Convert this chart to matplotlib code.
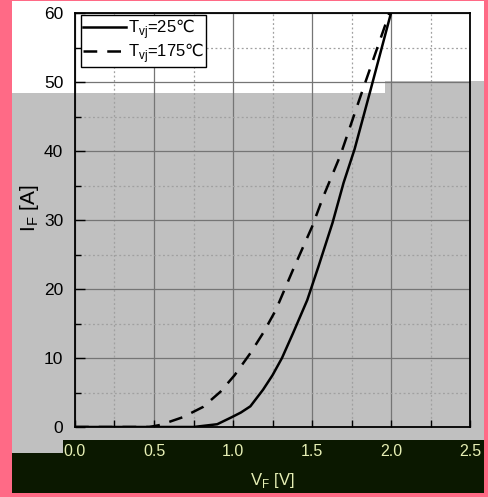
import matplotlib
matplotlib.use("Agg")
import matplotlib.pyplot as plt
from matplotlib.patches import Rectangle
from matplotlib.ticker import MultipleLocator

plt.rcParams['font.family'] = ['Liberation Sans', 'DejaVu Sans']
plt.rcParams['mathtext.fontset'] = 'custom'
plt.rcParams['mathtext.rm'] = 'Liberation Sans'
plt.rcParams['mathtext.sf'] = 'DejaVu Sans'

# forward characteristic
vf_25 = [0.0, 0.50, 0.75, 0.90, 0.99, 1.05, 1.11, 1.19, 1.25, 1.31, 1.38, 1.47,
         1.54, 1.63, 1.70, 1.77, 1.87, 2.00]
if_25 = [0.0, 0.0, 0.0, 0.4, 1.4, 2.1, 3.0, 5.4, 7.5, 10.0, 13.6, 18.4,
         23.2, 29.6, 35.4, 40.3, 48.8, 60.0]
vf_175 = [0.0, 0.47, 0.54, 0.68, 0.81, 0.92, 1.01, 1.11, 1.19, 1.27, 1.38,
          1.50, 1.57, 1.68, 1.82, 1.99]
if_175 = [0.0, 0.0, 0.3, 1.4, 2.9, 5.1, 7.5, 10.7, 13.6, 16.9, 22.8,
          29.0, 33.3, 39.4, 48.8, 60.0]

x_ticks = [0.0, 0.5, 1.0, 1.5, 2.0, 2.5]
x_labels = ['0.0', '0.5', '1.0', '1.5', '2.0', '2.5']
y_ticks = [0, 10, 20, 30, 40, 50, 60]

W, H = 489, 497
fig = plt.figure(figsize=(W / 100, H / 100), dpi=100)
fig.patch.set_facecolor('#ff6a86')


def box(x0, y0, x1, y1, color):
    # pixel box (top-left origin) in figure coords
    r = Rectangle((x0 / W, 1 - y1 / H), (x1 - x0) / W, (y1 - y0) / H,
                  transform=fig.transFigure, facecolor=color,
                  edgecolor='none', zorder=-10)
    fig.add_artist(r)


box(12, 1, 484, 493, 'white')
box(12, 93, 385, 440, '#c0c0c0')
box(385, 81, 484, 440, '#c0c0c0')
box(12, 440, 63, 453, '#c0c0c0')
box(63, 440, 484, 493, '#0b1800')
box(12, 453, 484, 493, '#0b1800')

ax = fig.add_axes([75 / W, 1 - 427 / H, 395 / W, 414 / H])
ax.set_facecolor('none')

ax.plot(vf_25, if_25, color='black', lw=1.8,
        label='T$_\\mathrm{vj}$=25$\\mathsf{\u2103}$')
ax.plot(vf_175, if_175, color='black', lw=1.8, dashes=(5.5, 4),
        label='T$_\\mathrm{vj}$=175$\\mathsf{\u2103}$')

ax.set_xlim(0, 2.5)
ax.set_ylim(0, 60)
ax.set_xticks(x_ticks)
ax.set_xticklabels(x_labels)
ax.set_yticks(y_ticks)
ax.xaxis.set_minor_locator(MultipleLocator(0.25))
ax.yaxis.set_minor_locator(MultipleLocator(5))

ax.grid(True, which='major', color='#757575', lw=0.9, ls='-')
ax.grid(True, which='minor', color='#a0a0a0', lw=0.9, ls=(0, (1.5, 2)))
ax.set_axisbelow(True)

ax.tick_params(axis='y', which='major', direction='in', length=7, width=1,
               labelsize=12.5, pad=8.5)
ax.tick_params(axis='y', which='minor', direction='in', length=4.5, width=1)
ax.tick_params(axis='x', which='both', direction='in', length=5, width=1,
               labelsize=11.5, pad=12, labelcolor='#e6efb4')
for s in ax.spines.values():
    s.set_linewidth(1.3)

ax.set_ylabel('I$_\\mathrm{F}$ [A]', fontsize=15)
ax.yaxis.set_label_coords(-0.086, 0.527)
ax.set_xlabel('V$_\\mathrm{F}$ [V]', fontsize=12, color='#e6efb4', labelpad=9)

leg = ax.legend(loc='upper left', bbox_to_anchor=(6 / 395, 1 - 2 / 414),
                fontsize=12, handlelength=2.6,
                fancybox=False, framealpha=1, edgecolor='black',
                borderaxespad=0, borderpad=0.1, labelspacing=0.05,
                handletextpad=0.15)
leg.get_frame().set_linewidth(1.0)

fig.savefig('out.png', dpi=100, facecolor=fig.get_facecolor())
